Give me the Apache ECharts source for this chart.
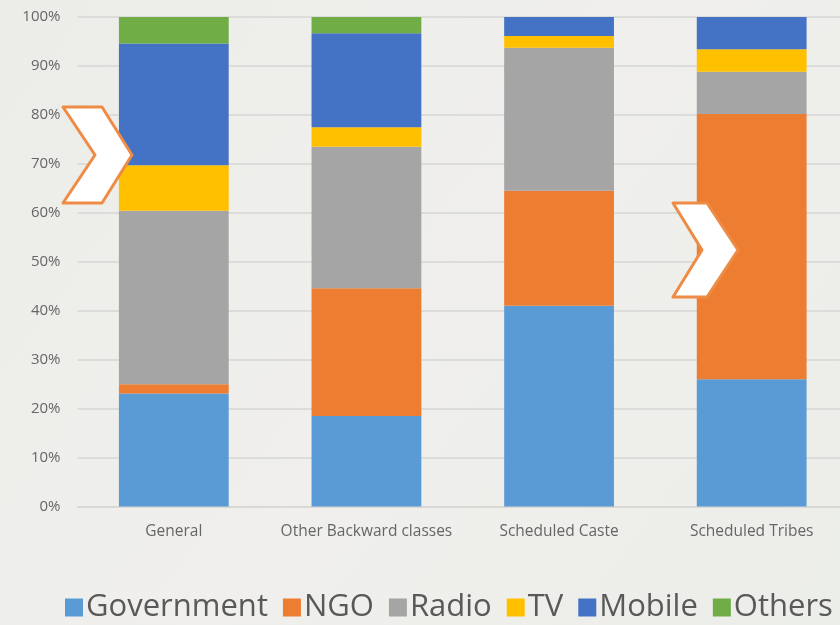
<!DOCTYPE html>
<html>
<head>
<meta charset="utf-8">
<script src="https://cdn.jsdelivr.net/npm/echarts@6/dist/echarts.min.js"></script>
<style>
html,body{margin:0;padding:0;background:#ecede9;overflow:hidden;width:840px;height:625px;}
#chart{width:848px;height:625px;}
</style>
</head>
<body>
<div id="chart"></div>
<script>
var categories = ['General', 'Other Backward classes', 'Scheduled Caste', 'Scheduled Tribes'];
var seriesNames = ['Government', 'NGO', 'Radio', 'TV', 'Mobile', 'Others'];
var government = [23.1, 18.5, 41.0, 26.0];
var ngo        = [1.9, 26.1, 23.5, 54.2];
var radio      = [35.4, 28.9, 29.2, 8.6];
var tv         = [9.3, 4.0, 2.4, 4.6];
var mobile     = [24.9, 19.2, 3.9, 6.6];
var others     = [5.4, 3.3, 0, 0];
var yTicks = ['0%','10%','20%','30%','40%','50%','60%','70%','80%','90%','100%'];
var colors = ['#5B9BD5', '#ED7D31', '#A5A5A5', '#FFC000', '#4472C4', '#70AD47'];

var values = [government, ngo, radio, tv, mobile, others];
var chart = echarts.init(document.getElementById('chart'));
var series = seriesNames.map(function (n, i) {
  return {
    name: n, type: 'bar', stack: 'total', barWidth: '57%',
    data: values[i], itemStyle: { color: colors[i] }
  };
});
function chevron(pts) {
  return {
    type: 'polygon', z: 100,
    shape: { points: pts },
    style: { fill: '#ffffff', stroke: '#EE8B45', lineWidth: 3, lineJoin: 'round' }
  };
}
chart.setOption({
  backgroundColor: {
    type: 'linear', x: 0, y: 0, x2: 1, y2: 1,
    colorStops: [{ offset: 0, color: '#ecede9' }, { offset: 0.5, color: '#f0efed' }, { offset: 1, color: '#eceee9' }]
  },
  animation: false,
  color: colors,
  grid: { left: 77.5, right: 0, top: 17, bottom: 118.5, containLabel: false },
  legend: {
    bottom: -3, left: 60,
    itemWidth: 18, itemHeight: 18, itemGap: 15,
    icon: 'rect',
    textStyle: { fontSize: 31, color: '#595959', fontFamily: 'Open Sans', padding: [0, 0, 0, -2] },
    data: seriesNames
  },
  xAxis: {
    type: 'category', data: categories,
    axisLine: { show: true, lineStyle: { color: '#d6d6d4', width: 1.5 } },
    axisTick: { show: false },
    axisLabel: { interval: 0, fontSize: 15.5, color: '#666666', margin: 17, fontFamily: 'Open Sans' }
  },
  yAxis: {
    type: 'value', min: 0, max: 100, interval: 10,
    axisLine: { show: false }, axisTick: { show: false },
    splitLine: { lineStyle: { color: '#d6d6d4', width: 1.5 } },
    axisLabel: {
      fontSize: 15, color: '#666666', margin: 17, fontFamily: 'Open Sans',
      formatter: function (v) { return yTicks[Math.round(v / 10)]; }
    }
  },
  series: series,
  graphic: [
    chevron([[63,107],[102,107],[132,155],[102,203],[63,203],[95,155]]),
    chevron([[673,203],[707,203],[738,250],[707,297],[673,297],[702,250]])
  ]
});
</script>
</body>
</html>
